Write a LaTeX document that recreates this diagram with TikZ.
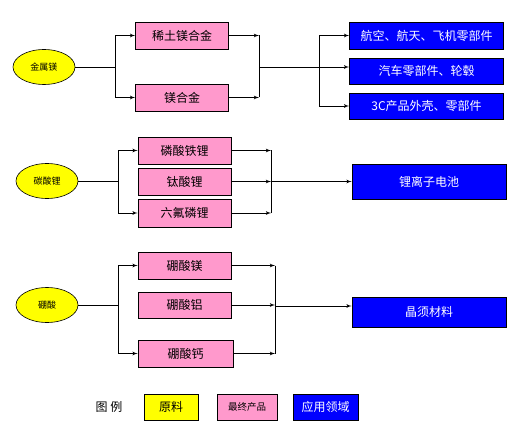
\documentclass[tikz,border=0pt]{standalone}
\usepackage{fontspec}
\setmainfont{Noto Sans CJK SC}
\usepackage{tikz}
\usetikzlibrary{arrows,shapes.geometric}
\definecolor{rawyellow}{HTML}{FFFF00}
\definecolor{prodpink}{HTML}{FF99CC}
\definecolor{appblue}{HTML}{0000FF}

\begin{document}
\begin{tikzpicture}[x=1pt,y=-1pt]
\tikzset{raw/.style = {shape=ellipse,draw,fill=rawyellow,line width=0.6pt,minimum width=62pt,minimum height=35pt,inner sep=0pt,font=\fontsize{9}{9}\selectfont}}
\tikzset{prod/.style = {shape=rectangle,draw,fill=prodpink,line width=0.8pt,minimum width=93pt,minimum height=27pt,inner sep=0pt,font=\fontsize{12}{12}\selectfont}}
\tikzset{app/.style = {shape=rectangle,draw,fill=appblue,text=white,line width=0.8pt,minimum width=154pt,minimum height=27pt,inner sep=0pt,font=\fontsize{12}{12}\selectfont}}
\tikzset{edge/.style = {-,line width=0.8pt,> = latex'}}
\useasboundingbox (0,0) rectangle (522,433);
% vertices
\node[raw] (mg) at (44,67) {金属镁};
\node[prod] (re) at (182,35.5) {稀土镁合金};
\node[prod] (mga) at (182,97.5) {镁合金};
\node[app] (air) at (426.5,35.5) {航空、航天、飞机零部件};
\node[app,minimum height=26pt] (car) at (426.5,71) {汽车零部件、轮毂};
\node[app,minimum height=26pt] (cc) at (426.5,106) {3C产品外壳、零部件};
\node[raw] (li) at (47,181) {碳酸锂};
\node[prod] (fe) at (184.5,150.5) {磷酸铁锂};
\node[prod] (ti) at (184.5,181.5) {钛酸锂};
\node[prod,minimum height=28pt] (pf) at (184.5,213) {六氟磷锂};
\node[app,minimum height=35pt] (bat) at (429,181.5) {锂离子电池};
\node[raw] (bo) at (47,305) {硼酸};
\node[prod] (mgb) at (184.5,265.5) {硼酸镁};
\node[prod,minimum height=26pt] (alb) at (184.5,305) {硼酸铝};
\node[prod,minimum width=95pt] (cab) at (185.5,353.5) {硼酸钙};
\node[app,minimum height=30pt] (wh) at (429,312) {晶须材料};
\coordinate (j1) at (115,67);
\coordinate (k1) at (259,67);
\coordinate (f1) at (319,67);
\coordinate (j2) at (118,181);
\coordinate (k2) at (271,181.5);
\coordinate (j3) at (118,305);
\coordinate (k3) at (275,306);
% legend
\node[font=\fontsize{12}{12}\selectfont] (lg) at (109,407) {图\ 例};
\node[prod,fill=rawyellow,minimum width=54pt,minimum height=26pt] (lraw) at (171,407) {原料};
\node[prod,minimum width=60pt,minimum height=26pt,font=\fontsize{9.5}{9.5}\selectfont] (lprod) at (247,407) {最终产品};
\node[app,minimum width=65pt,minimum height=26pt] (lapp) at (325.5,407) {应用领域};
%edges
\draw[edge] (mg) to (j1);
\draw[edge,->] (j1) |- (re);
\draw[edge,->] (j1) |- (mga);
\draw[edge,->] (re) -- (re -| k1);
\draw[edge,->] (mga) -- (mga -| k1);
\draw[edge] (re -| k1) -- (mga -| k1);
\draw[edge,->] (k1) -- (k1 -| car.west);
\draw[edge,->] (f1) |- (air);
\draw[edge,->] (f1) |- (cc);
\draw[edge] (li) to (j2);
\draw[edge,->] (j2) |- (fe);
\draw[edge,->] (j2) |- (pf);
\draw[edge,->] (fe) -- (fe -| k2);
\draw[edge,->] (ti) -- (ti -| k2);
\draw[edge,->] (pf) -- (pf -| k2);
\draw[edge] (fe -| k2) -- (pf -| k2);
\draw[edge,->] (k2) -- (bat);
\draw[edge] (bo) to (j3);
\draw[edge,->] (j3) |- (mgb);
\draw[edge,->] (j3) |- (cab);
\draw[edge,->] (mgb) -- (mgb -| k3);
\draw[edge,->] (alb) -- (alb -| k3);
\draw[edge,->] (cab) -- (cab -| k3);
\draw[edge] (mgb -| k3) -- (cab -| k3);
\draw[edge,->] (k3) -- (k3 -| wh.west);
\end{tikzpicture}
\end{document}
